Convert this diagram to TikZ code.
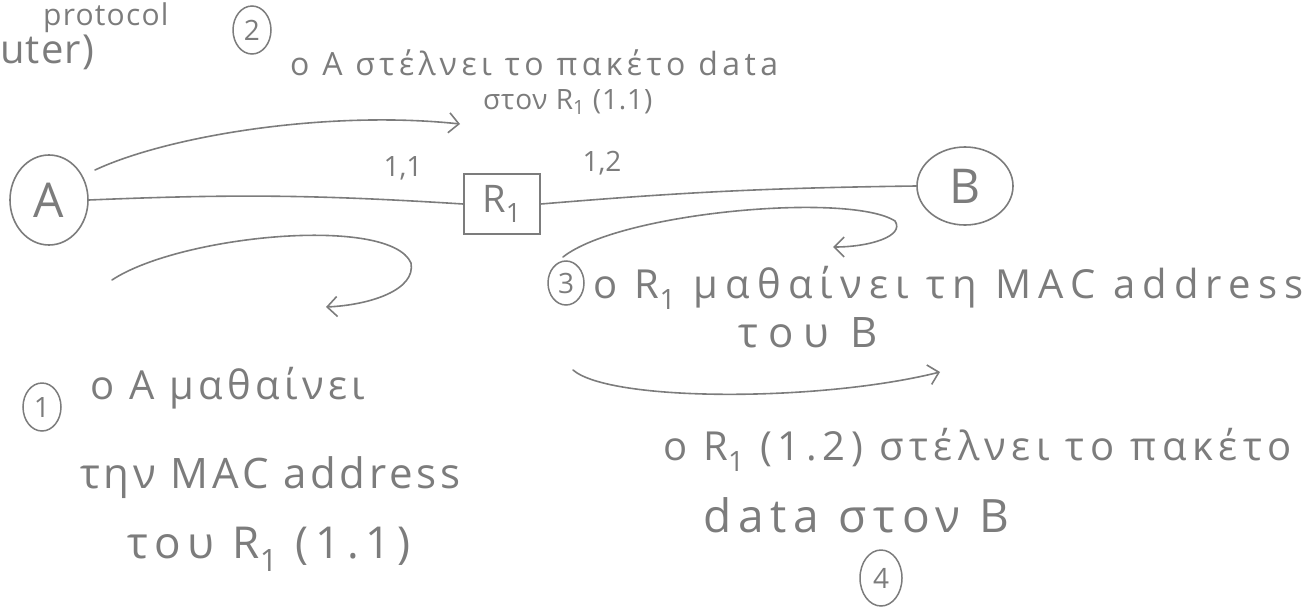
\documentclass[tikz,border=0pt]{standalone}
\usepackage{fontspec}
\setmainfont{Open Sans}
\usetikzlibrary{arrows.meta,shapes.geometric}
\definecolor{pencil}{HTML}{7C7C7C}
\newcommand\hwf[3]{\fontsize{#1}{#1}\selectfont\addfontfeature{LetterSpace=#2}#3}
\tikzset{
 pen/.style={draw=pencil, line width=1.6pt, line cap=round},
 arr/.style={pen, -{Straight Barb[length=10pt,width=20pt,line width=1.6pt]}},
 hw/.style={text=pencil, inner sep=0pt, anchor=base west},
 lbl/.style={text=pencil, inner sep=0pt, font=\fontsize{28}{28}\selectfont},
 num/.style={ellipse, draw=pencil, line width=1.5pt, minimum width=38pt, minimum height=48pt, inner sep=0pt, text=pencil, font=\fontsize{28}{28}\selectfont},
 host/.style={ellipse, draw=pencil, line width=1.6pt, inner sep=0pt, text=pencil, font=\fontsize{48}{48}\selectfont},
 router/.style={rectangle, draw=pencil, line width=1.6pt, inner sep=0pt, minimum width=76pt, minimum height=60pt, text=pencil, font=\fontsize{38}{38}\selectfont},
}
\begin{document}
\begin{tikzpicture}[x=1pt,y=-1pt]
\useasboundingbox (0,0) rectangle (1316,608);
% top-left fragments
\node[hw] (proto) at (43,25) {\hwf{30}{4}{protocol}};
\node[hw] (uter) at (0,63) {\hwf{40}{3}{uter)}};
% step 2
\node[num] (n2) at (252,30) {2};
\node[hw] (t2a) at (290,75) {\hwf{32}{14}{ο A στέλνει το πακέτο data}};
\node[hw] (t2b) at (483,109) {\hwf{28}{3}{στον R\textsubscript{1} (1.1)}};
% hosts and router
\node[host, minimum width=78pt, minimum height=90pt] (A) at (49,200) {A};
\node[router] (R1) at (502,204) {R\textsubscript{1}};
\node[host, minimum width=96pt, minimum height=78pt] (B) at (965,186) {B};
\node[lbl] (l11) at (403,168) {1,1};
\node[lbl] (l12) at (602,163) {1,2};
\draw[pen] (A.east) to[bend left=3] (R1.west);
\draw[pen] (R1.east) to[bend left=2] (B.west);
% arrows
\coordinate (a2s) at (95,170);
\coordinate (a2e) at (460,124);
\draw[arr] (a2s) .. controls (170,135) and (330,110) .. (a2e);
\coordinate (a1s) at (112,280);
\coordinate (a1m) at (411,263);
\coordinate (a1e) at (326,307);
\draw[arr] (a1s) .. controls (180,235) and (390,215) .. (a1m) .. controls (416,290) and (370,305) .. (a1e);
\coordinate (a3s) at (563,257);
\coordinate (a3m) at (895,221);
\coordinate (a3e) at (833,247);
\draw[arr] (a3s) .. controls (620,212) and (850,192) .. (a3m) .. controls (905,236) and (870,247) .. (a3e);
\coordinate (a4s) at (573,370);
\coordinate (a4e) at (940,372);
\draw[arr] (a4s) .. controls (610,402) and (820,402) .. (a4e);
% step 1
\node[num] (n1) at (42,407) {1};
\node[hw] (t1a) at (90,399) {\hwf{40}{11}{ο A μαθαίνει}};
\node[hw] (t1b) at (80,488) {\hwf{42}{9}{την MAC address}};
\node[hw] (t1c) at (127,558) {\hwf{44}{15}{του R\textsubscript{1} (1.1)}};
% step 3
\node[num, minimum width=36pt, minimum height=44pt] (n3) at (566,283) {3};
\node[hw] (t3a) at (593,298) {\hwf{40}{18}{ο R\textsubscript{1} μαθαίνει τη MAC address}};
\node[hw] (t3b) at (738,347) {\hwf{42}{24}{του B}};
% step 4
\node[hw] (t4a) at (663,460) {\hwf{40}{14}{ο R\textsubscript{1} (1.2) στέλνει το πακέτο}};
\node[hw] (t4b) at (703,532) {\hwf{46}{15}{data στον B}};
\node[num, minimum width=42pt, minimum height=56pt] (n4) at (881,578) {4};
\end{tikzpicture}
\end{document}
